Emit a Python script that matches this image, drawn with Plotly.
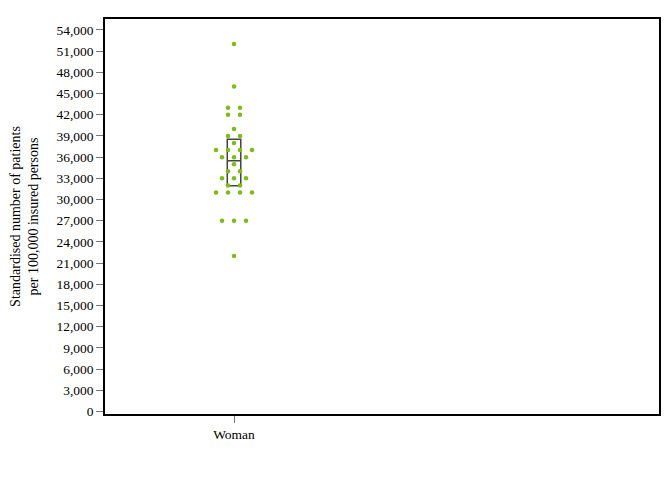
import plotly.graph_objects as go
from collections import Counter

categories = ["Woman"]
dot_values = [52000, 46000, 43000, 43000, 42000, 42000, 40000, 39000, 39000, 38000,
              37000, 37000, 37000, 37000, 36000, 36000, 36000, 35000, 34000, 34000,
              33000, 33000, 33000, 32000, 32000, 31000, 31000, 31000, 31000,
              27000, 27000, 27000, 22000]
box_q1 = 31950
box_median = 35500
box_q3 = 38550
y_tickvals = list(range(0, 54001, 3000))
y_ticktext = [f"{v:,}" for v in y_tickvals]

# page body adds an 8px margin, so the figure is sized to fit inside it
W, H = 656, 464
ml, mr, mt, mb = 97, 5, 11, 58
plot_w = W - ml - mr
x_range = [-0.5, 1.647]
units_per_px = (x_range[1] - x_range[0]) / plot_w

# beeswarm layout: 12 px spacing within each value row
counts = Counter(dot_values)
xs, ys = [], []
for v in sorted(counts, reverse=True):
    n = counts[v]
    for i in range(n):
        xs.append((i - (n - 1) / 2) * 12 * units_per_px)
        ys.append(v)

fig = go.Figure()
fig.add_trace(go.Scatter(
    x=xs, y=ys, mode="markers",
    marker=dict(color="#7cbc14", size=4.5, line=dict(width=0)),
    showlegend=False, hoverinfo="y"))
fig.add_trace(go.Box(
    x=[0], q1=[box_q1], median=[box_median], q3=[box_q3],
    lowerfence=[box_q1], upperfence=[box_q3],
    width=13.5 * units_per_px,
    line=dict(color="#444444", width=1.5),
    fillcolor="rgba(0,0,0,0)", boxpoints=False, showlegend=False))

font = "Liberation Serif, Times New Roman, serif"
fig.update_layout(
    width=W, height=H,
    margin=dict(l=ml, r=mr, t=mt, b=mb, autoexpand=False),
    paper_bgcolor="white", plot_bgcolor="white",
    font=dict(family=font, size=13, color="black"),
    xaxis=dict(range=x_range, tickvals=[0], ticktext=categories,
               showgrid=False, zeroline=False, showline=True, mirror=True,
               linecolor="black", linewidth=1.5, ticks="outside", ticklen=7,
               tickcolor="#777777", tickfont=dict(size=13.5, family=font)),
    yaxis=dict(range=[-350, 55550], tickvals=y_tickvals, ticktext=y_ticktext,
               showgrid=False, zeroline=False, showline=True, mirror=True,
               linecolor="black", linewidth=1.5, ticks="outside", ticklen=7,
               tickcolor="#777777", tickfont=dict(size=13.5, family=font),
               automargin=False,
               title=dict(text="Standardised number of patients<br>per 100,000 insured persons",
                          font=dict(size=14, family=font), standoff=19)),
)
fig.write_html("out.html")
